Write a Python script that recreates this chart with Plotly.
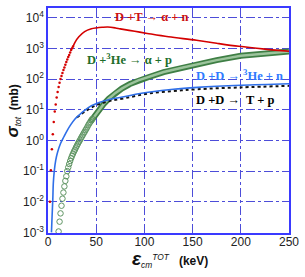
import plotly.graph_objects as go

# ---- data (energy in keV, log10 of cross-section in mb) ----
dt_dot_E = [2, 3, 4, 5, 6, 7, 8, 9, 10, 11, 12, 13, 14, 15, 16, 17, 18, 19, 20, 21, 22, 23, 24, 25, 26]
dt_dot_log = [-2.0, -0.97, -0.29, 0.2, 0.6, 0.94, 1.17, 1.4, 1.58, 1.74, 1.88, 2.0, 2.1, 2.2, 2.3, 2.38, 2.47, 2.56, 2.64, 2.72, 2.79, 2.87, 2.95, 3.01, 3.06]
dt_line_E = [26, 28, 32, 38, 45, 50, 56, 62, 70, 75, 90, 103, 125, 154, 175, 198, 225, 250]
dt_line_log = [3.06, 3.2, 3.38, 3.55, 3.64, 3.67, 3.69, 3.7, 3.67, 3.64, 3.56, 3.49, 3.38, 3.27, 3.17, 3.07, 2.98, 2.91]

ddn_E = [3.6, 4.2, 5.0, 5.5, 6.5, 8, 10, 13, 16.5, 20, 23.3, 28, 32, 38, 45, 53, 63, 80, 94, 104, 130, 155, 200, 250]
ddn_log = [-3.0, -2.5, -1.9, -1.4, -1.0, -0.65, -0.38, -0.1, 0.12, 0.33, 0.5, 0.7, 0.82, 0.98, 1.13, 1.24, 1.33, 1.43, 1.52, 1.57, 1.67, 1.73, 1.8, 1.85]

ddp_E = [30, 40, 50, 63, 80, 104, 130, 155, 200, 250]
ddp_log = [0.75, 0.98, 1.15, 1.28, 1.38, 1.53, 1.61, 1.67, 1.73, 1.78]

dhe_pt_E = list(range(11, 47))
dhe_pt_log = [-2.97, -2.65, -2.38, -2.13, -1.9, -1.7, -1.5, -1.32, -1.17, -1.0, -0.88, -0.77, -0.67, -0.58,
              -0.5, -0.43, -0.36, -0.3, -0.23, -0.17, -0.11, -0.05, 0.0, 0.06, 0.12, 0.17, 0.23, 0.28,
              0.34, 0.39, 0.45, 0.51, 0.56, 0.61, 0.66, 0.7]
dhe_band_E = [43.9, 49, 53.5, 57.6, 63, 70, 76.5, 85, 93.6, 104, 120, 140, 155, 175, 200, 225, 250]
dhe_band_log = [0.6, 0.83, 1.02, 1.18, 1.36, 1.55, 1.69, 1.84, 1.96, 2.06, 2.23, 2.38, 2.49, 2.62, 2.76, 2.84, 2.9]

x_ticks = [0, 50, 100, 150, 200, 250]
y_exponents = [-3, -2, -1, 0, 1, 2, 3, 4]


def mb(logs):
    return [10 ** v for v in logs]


fig = go.Figure()

# D + 3He band
fig.add_trace(go.Scatter(x=dhe_band_E, y=mb(dhe_band_log), mode="lines",
                         line=dict(color="#3f7f45", width=6), showlegend=False))
fig.add_trace(go.Scatter(x=dhe_band_E, y=mb(dhe_band_log), mode="lines",
                         line=dict(color="#9cc49c", width=2.5), showlegend=False))
fig.add_trace(go.Scatter(x=dhe_pt_E, y=mb(dhe_pt_log), mode="markers",
                         marker=dict(symbol="circle-open", size=5.5, color="#5f9563", line=dict(width=1)),
                         showlegend=False))

# D + T
fig.add_trace(go.Scatter(x=dt_dot_E, y=mb(dt_dot_log), mode="markers",
                         marker=dict(size=2.5, color="#d40000"), showlegend=False))
fig.add_trace(go.Scatter(x=dt_line_E, y=mb(dt_line_log), mode="lines",
                         line=dict(color="#d40000", width=1.6, shape="spline"), showlegend=False))

# D + D -> T + p (black dotted)
fig.add_trace(go.Scatter(x=ddp_E, y=mb(ddp_log), mode="lines",
                         line=dict(color="#111111", width=2, dash="dot", shape="spline"), showlegend=False))
# D + D -> 3He + n (blue)
fig.add_trace(go.Scatter(x=ddn_E, y=mb(ddn_log), mode="lines",
                         line=dict(color="#2f6fe8", width=1.6, shape="spline"), showlegend=False))

serif = "Liberation Serif, Times New Roman, serif"
ann = [
    dict(x=153, y=15, text="<b>D +T → α + n</b>", color="#cc1111"),
    dict(x=131, y=57, text="<b>D +<sup>3</sup>He → α + p</b>", color="#1e6e2a"),
    dict(x=242, y=74, text="<b>D +D → <sup>3</sup>He + n</b>", color="#2f7bff"),
    dict(x=237, y=99, text="<b>D +D →  T + p</b>", color="#000000"),
]
annotations = []
for a in ann:
    annotations.append(dict(xref="paper", yref="paper",
                            x=(a["x"] - 48) / 244, y=1 - (a["y"] - 6) / 227, xanchor="center", yanchor="middle",
                            text=a["text"], showarrow=False,
                            font=dict(family=serif, size=12.5, color=a["color"])))

annotations.append(dict(xref="paper", yref="paper", x=(13 - 48) / 244, y=1 - (110 - 6) / 227,
                        xanchor="center", yanchor="middle", textangle=-90, showarrow=False,
                        text="<b><i><span style='font-size:17px'>σ</span></i></b><sub><i>tot</i></sub>  <b>(mb)</b>",
                        font=dict(family="Liberation Sans, Arial", size=12, color="#111")))
annotations.append(dict(xref="paper", yref="paper", x=(172 - 48) / 244, y=1 - (259 - 6) / 227,
                        xanchor="center", yanchor="middle", showarrow=False,
                        text="<b><i><span style='font-size:19px'>ε</span></i></b><sub><i>cm</i></sub><sup><i>TOT</i></sup>   <b>(keV)</b>",
                        font=dict(family="Liberation Sans, Arial", size=12, color="#111")))

fig.update_layout(
    width=305, height=277,
    margin=dict(l=48, r=13, t=6, b=44),
    paper_bgcolor="white", plot_bgcolor="white",
    annotations=annotations,
    showlegend=False,
)
fig.update_xaxes(range=[0, 250], tickvals=x_ticks, ticktext=[str(v) for v in x_ticks],
                 showgrid=True, gridcolor="#4d4dd9", griddash="dashdot", gridwidth=1,
                 showline=True, linecolor="#3a3aff", linewidth=1.5, mirror=True,
                 ticks="", zeroline=False, ticklabelstandoff=-3,
                 tickfont=dict(family="Liberation Sans, Arial", size=12, color="#222"))
fig.update_yaxes(type="log", range=[-3.02, 4.32],
                 tickvals=[10 ** e for e in y_exponents],
                 ticktext=["10<sup>%d</sup>" % e for e in y_exponents],
                 showgrid=True, gridcolor="#4d4dd9", griddash="dashdot", gridwidth=1,
                 showline=True, linecolor="#3a3aff", linewidth=1.5, mirror=True,
                 ticks="", zeroline=False,
                 tickfont=dict(family="Liberation Sans, Arial", size=12, color="#222"))

fig.write_html("out.html", config={"displayModeBar": False},
               post_script="document.body.style.margin='0';")
